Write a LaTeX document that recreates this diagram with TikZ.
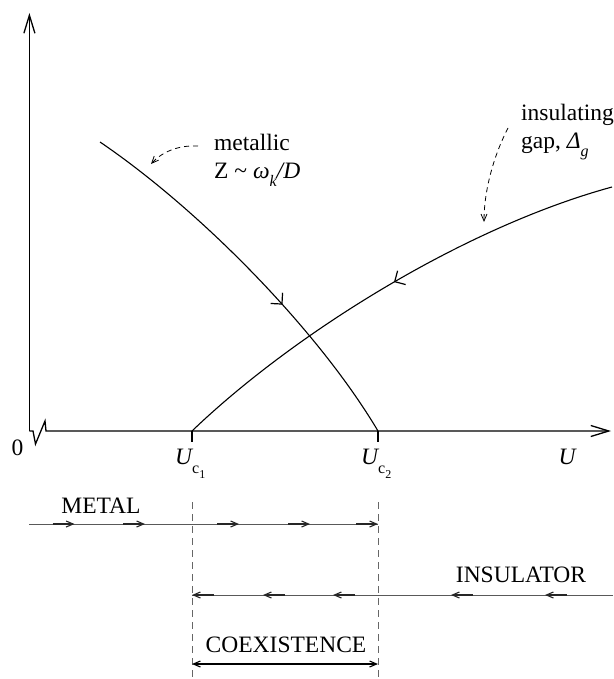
\documentclass[tikz,border=0pt]{standalone}
\usepackage{fontspec}
\setmainfont{Liberation Serif}
\usetikzlibrary{arrows.meta,decorations.markings}
\begin{document}
\begin{tikzpicture}[x=1pt,y=-1pt,
  lbl/.style={inner sep=0pt,font=\fontsize{23.5}{28}\selectfont},
  axis/.style={line width=1.3pt,black},
  curve/.style={line width=1.1pt,black},
  bigtip/.style={-{Straight Barb[length=18pt,width=11pt]}},
  flowmark/.style={postaction={decorate,decoration={markings,
      mark=at position #1 with {\draw[line width=1.2pt,solid] (-8,8) -- (0,0) -- (-8,-8);}}}},
  dasharrow/.style={line width=0.8pt,dash pattern=on 5pt off 4pt,-{Straight Barb[length=7pt,width=6pt]}},
  flowline/.style={line width=1pt,black!65},
  flowtip/.style={line width=1.1pt,black!85,-{Straight Barb[length=7pt,width=6pt]}},
  guide/.style={line width=0.9pt,black!60,dash pattern=on 7pt off 5pt}]
\useasboundingbox (0,0) rectangle (613,679);
% axes
\coordinate (O) at (29.4,431);
\coordinate (Ytop) at (29.4,13);
\coordinate (Xend) at (611,431);
\coordinate (Uc1) at (192,431);
\coordinate (Uc2) at (378,431);
\draw[axis,bigtip] (O) -- (Ytop);
\draw[axis,bigtip] (O) -- (33,431) -- (35.5,444) -- (45,421) -- (46,431) -- (Xend);
\draw[axis] (Uc1) -- (192,442);
\draw[axis] (Uc2) -- (378,442);
% labels on axis
\node[lbl] (zero) at (17.6,448) {0};
\node[lbl,anchor=west] (lUc1) at (175,464) {\itshape U\raisebox{-0.38em}{\fontsize{16}{16}\selectfont\upshape c\raisebox{-0.28em}{\fontsize{12}{12}\selectfont 1}}};
\node[lbl,anchor=west] (lUc2) at (361,464) {\itshape U\raisebox{-0.38em}{\fontsize{16}{16}\selectfont\upshape c\raisebox{-0.28em}{\fontsize{12}{12}\selectfont 2}}};
\node[lbl] (lU) at (567,457) {\itshape U};
% curves
\coordinate (m0) at (100,142);
\coordinate (i5) at (612,187);
\draw[curve,flowmark=0.605] (m0) .. controls (200,210) and (318,330) .. (Uc2);
\draw[curve,flowmark=0.485] (i5) .. controls (462,228) and (292,335) .. (Uc1);
% annotations
\node[lbl,anchor=west,align=left] (metallic) at (214,160) {metallic\\Z \textasciitilde\ \itshape ω\raisebox{-0.35em}{\fontsize{16}{16}\selectfont k}/D};
\node[lbl,anchor=west,align=left] (insul) at (521,132) {insulating\\gap, \itshape Δ\raisebox{-0.35em}{\fontsize{16}{16}\selectfont g}};
\coordinate (ma) at (198,146);
\coordinate (mb) at (151,164);
\draw[dasharrow] (ma) .. controls (178,145) and (162,152) .. (mb);
\coordinate (ia) at (508,128);
\coordinate (ib) at (484,222);
\draw[dasharrow] (ia) .. controls (494,155) and (484,190) .. (ib);
% guides
\draw[guide] (192,502) -- (192,679);
\draw[guide] (378,502) -- (378,679);
% metal flow
\node[lbl] (metal) at (101,506) {METAL};
\coordinate (ms) at (29,524);
\coordinate (me) at (378,524);
\draw[flowline] (ms) -- (me);
\foreach \x in {74.5,145,239,310,378} \draw[flowtip] (\x-22,524) -- (\x,524);
% insulator flow
\node[lbl] (insulator) at (521,575) {INSULATOR};
\coordinate (is) at (613,595);
\coordinate (ie) at (192,595);
\draw[flowline] (is) -- (ie);
\foreach \x in {545,451,333,263,192} \draw[flowtip] (\x+22,595) -- (\x,595);
% coexistence
\node[lbl] (coex) at (286,645) {COEXISTENCE};
\draw[line width=1.1pt,{Straight Barb[length=7pt,width=6pt]}-{Straight Barb[length=7pt,width=6pt]}] (192,664) -- (378,664);
\end{tikzpicture}
\end{document}
